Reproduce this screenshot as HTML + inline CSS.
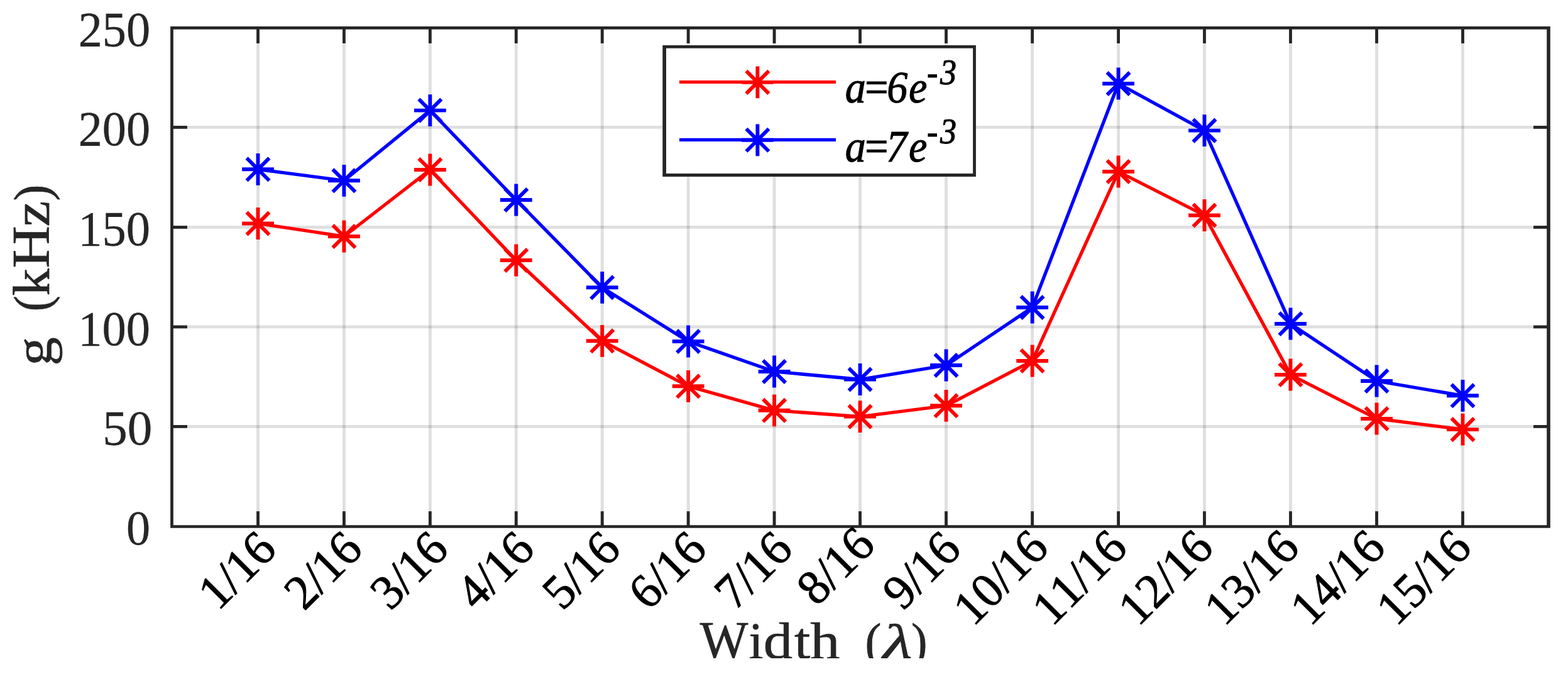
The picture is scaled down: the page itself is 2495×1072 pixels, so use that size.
<!DOCTYPE html>
<html lang="en"><head><meta charset="utf-8"><title>g (kHz) versus Width (λ)</title>
<style>
html,body{margin:0;padding:0;background:#fff;}
body{width:2495px;height:1072px;overflow:hidden;}
svg{display:block;}
text{font-family:"Liberation Serif",serif;font-kerning:none;}
.tk{fill:#262626;stroke:#262626;stroke-width:0.4px;font-size:77.5px;}
.xt{fill:#000;stroke:#000;stroke-width:1px;font-size:77.5px;}
.lb{fill:#262626;stroke:#262626;stroke-width:0.7px;font-size:83.7px;}
.lg{fill:#000;stroke:#000;stroke-width:1.1px;font-size:71px;font-style:italic;}
.sp{font-size:56px;}
</style></head><body>
<svg width="2495" height="1072" viewBox="0 0 2495 1072">
<rect x="0" y="0" width="2495" height="1072" fill="#fff"/>
<g stroke="#262626" stroke-opacity="0.15" stroke-width="4.80" fill="none">
<line x1="410.50" y1="46.85" x2="410.50" y2="835.30"/>
<line x1="547.43" y1="46.85" x2="547.43" y2="835.30"/>
<line x1="684.36" y1="46.85" x2="684.36" y2="835.30"/>
<line x1="821.29" y1="46.85" x2="821.29" y2="835.30"/>
<line x1="958.22" y1="46.85" x2="958.22" y2="835.30"/>
<line x1="1095.15" y1="46.85" x2="1095.15" y2="835.30"/>
<line x1="1232.08" y1="46.85" x2="1232.08" y2="835.30"/>
<line x1="1368.55" y1="46.85" x2="1368.55" y2="835.30"/>
<line x1="1505.50" y1="46.85" x2="1505.50" y2="835.30"/>
<line x1="1642.60" y1="46.85" x2="1642.60" y2="835.30"/>
<line x1="1779.60" y1="46.85" x2="1779.60" y2="835.30"/>
<line x1="1916.50" y1="46.85" x2="1916.50" y2="835.30"/>
<line x1="2053.50" y1="46.85" x2="2053.50" y2="835.30"/>
<line x1="2190.59" y1="46.85" x2="2190.59" y2="835.30"/>
<line x1="2327.52" y1="46.85" x2="2327.52" y2="835.30"/>
<line x1="275.85" y1="202.45" x2="2461.20" y2="202.45"/>
<line x1="275.85" y1="361.43" x2="2461.20" y2="361.43"/>
<line x1="275.85" y1="519.90" x2="2461.20" y2="519.90"/>
<line x1="275.85" y1="678.43" x2="2461.20" y2="678.43"/>
</g>
<g fill="#262626">
<path fill-rule="evenodd" d="M271.10 42.10H2466.80V839.80H271.10ZM275.85 46.85H2461.20V835.30H275.85Z"/>
<rect x="408.10" y="813.20" width="4.80" height="23.10"/>
<rect x="408.10" y="45.85" width="4.80" height="23.10"/>
<rect x="545.03" y="813.20" width="4.80" height="23.10"/>
<rect x="545.03" y="45.85" width="4.80" height="23.10"/>
<rect x="681.96" y="813.20" width="4.80" height="23.10"/>
<rect x="681.96" y="45.85" width="4.80" height="23.10"/>
<rect x="818.89" y="813.20" width="4.80" height="23.10"/>
<rect x="818.89" y="45.85" width="4.80" height="23.10"/>
<rect x="955.82" y="813.20" width="4.80" height="23.10"/>
<rect x="955.82" y="45.85" width="4.80" height="23.10"/>
<rect x="1092.75" y="813.20" width="4.80" height="23.10"/>
<rect x="1092.75" y="45.85" width="4.80" height="23.10"/>
<rect x="1229.68" y="813.20" width="4.80" height="23.10"/>
<rect x="1229.68" y="45.85" width="4.80" height="23.10"/>
<rect x="1366.15" y="813.20" width="4.80" height="23.10"/>
<rect x="1366.15" y="45.85" width="4.80" height="23.10"/>
<rect x="1503.10" y="813.20" width="4.80" height="23.10"/>
<rect x="1503.10" y="45.85" width="4.80" height="23.10"/>
<rect x="1640.20" y="813.20" width="4.80" height="23.10"/>
<rect x="1640.20" y="45.85" width="4.80" height="23.10"/>
<rect x="1777.20" y="813.20" width="4.80" height="23.10"/>
<rect x="1777.20" y="45.85" width="4.80" height="23.10"/>
<rect x="1914.10" y="813.20" width="4.80" height="23.10"/>
<rect x="1914.10" y="45.85" width="4.80" height="23.10"/>
<rect x="2051.10" y="813.20" width="4.80" height="23.10"/>
<rect x="2051.10" y="45.85" width="4.80" height="23.10"/>
<rect x="2188.19" y="813.20" width="4.80" height="23.10"/>
<rect x="2188.19" y="45.85" width="4.80" height="23.10"/>
<rect x="2325.12" y="813.20" width="4.80" height="23.10"/>
<rect x="2325.12" y="45.85" width="4.80" height="23.10"/>
<rect x="274.85" y="200.05" width="23.10" height="4.80"/>
<rect x="2440.00" y="200.05" width="22.20" height="4.80"/>
<rect x="274.85" y="359.03" width="23.10" height="4.80"/>
<rect x="2440.00" y="359.03" width="22.20" height="4.80"/>
<rect x="274.85" y="517.50" width="23.10" height="4.80"/>
<rect x="2440.00" y="517.50" width="22.20" height="4.80"/>
<rect x="274.85" y="676.03" width="23.10" height="4.80"/>
<rect x="2440.00" y="676.03" width="22.20" height="4.80"/>
</g>
<polyline points="410.50,355.50 547.43,376.00 684.36,270.00 821.29,414.00 958.22,542.30 1095.15,614.30 1232.08,652.80 1368.55,662.60 1505.50,645.30 1642.60,574.00 1779.60,273.00 1916.50,342.50 2053.50,596.00 2190.59,666.00 2327.52,683.10" fill="none" stroke="#ff0000" stroke-width="5.3" stroke-linejoin="miter"/>
<path d="M385.10 355.50H435.90M410.50 330.10V380.90M392.54 337.54L428.46 373.46M392.54 373.46L428.46 337.54M522.03 376.00H572.83M547.43 350.60V401.40M529.47 358.04L565.39 393.96M529.47 393.96L565.39 358.04M658.96 270.00H709.76M684.36 244.60V295.40M666.40 252.04L702.32 287.96M666.40 287.96L702.32 252.04M795.89 414.00H846.69M821.29 388.60V439.40M803.33 396.04L839.25 431.96M803.33 431.96L839.25 396.04M932.82 542.30H983.62M958.22 516.90V567.70M940.26 524.34L976.18 560.26M940.26 560.26L976.18 524.34M1069.75 614.30H1120.55M1095.15 588.90V639.70M1077.19 596.34L1113.11 632.26M1077.19 632.26L1113.11 596.34M1206.68 652.80H1257.48M1232.08 627.40V678.20M1214.12 634.84L1250.04 670.76M1214.12 670.76L1250.04 634.84M1343.15 662.60H1393.95M1368.55 637.20V688.00M1350.59 644.64L1386.51 680.56M1350.59 680.56L1386.51 644.64M1480.10 645.30H1530.90M1505.50 619.90V670.70M1487.54 627.34L1523.46 663.26M1487.54 663.26L1523.46 627.34M1617.20 574.00H1668.00M1642.60 548.60V599.40M1624.64 556.04L1660.56 591.96M1624.64 591.96L1660.56 556.04M1754.20 273.00H1805.00M1779.60 247.60V298.40M1761.64 255.04L1797.56 290.96M1761.64 290.96L1797.56 255.04M1891.10 342.50H1941.90M1916.50 317.10V367.90M1898.54 324.54L1934.46 360.46M1898.54 360.46L1934.46 324.54M2028.10 596.00H2078.90M2053.50 570.60V621.40M2035.54 578.04L2071.46 613.96M2035.54 613.96L2071.46 578.04M2165.19 666.00H2215.99M2190.59 640.60V691.40M2172.63 648.04L2208.55 683.96M2172.63 683.96L2208.55 648.04M2302.12 683.10H2352.92M2327.52 657.70V708.50M2309.56 665.14L2345.48 701.06M2309.56 701.06L2345.48 665.14" fill="none" stroke="#ff0000" stroke-width="5.9"/>
<polyline points="410.50,269.30 547.43,287.30 684.36,175.60 821.29,318.00 958.22,457.30 1095.15,543.00 1232.08,591.00 1368.55,603.50 1505.50,581.00 1642.60,489.00 1779.60,133.00 1916.50,207.60 2053.50,515.00 2190.59,606.00 2327.52,629.30" fill="none" stroke="#0000ff" stroke-width="5.3" stroke-linejoin="miter"/>
<path d="M385.10 269.30H435.90M410.50 243.90V294.70M392.54 251.34L428.46 287.26M392.54 287.26L428.46 251.34M522.03 287.30H572.83M547.43 261.90V312.70M529.47 269.34L565.39 305.26M529.47 305.26L565.39 269.34M658.96 175.60H709.76M684.36 150.20V201.00M666.40 157.64L702.32 193.56M666.40 193.56L702.32 157.64M795.89 318.00H846.69M821.29 292.60V343.40M803.33 300.04L839.25 335.96M803.33 335.96L839.25 300.04M932.82 457.30H983.62M958.22 431.90V482.70M940.26 439.34L976.18 475.26M940.26 475.26L976.18 439.34M1069.75 543.00H1120.55M1095.15 517.60V568.40M1077.19 525.04L1113.11 560.96M1077.19 560.96L1113.11 525.04M1206.68 591.00H1257.48M1232.08 565.60V616.40M1214.12 573.04L1250.04 608.96M1214.12 608.96L1250.04 573.04M1343.15 603.50H1393.95M1368.55 578.10V628.90M1350.59 585.54L1386.51 621.46M1350.59 621.46L1386.51 585.54M1480.10 581.00H1530.90M1505.50 555.60V606.40M1487.54 563.04L1523.46 598.96M1487.54 598.96L1523.46 563.04M1617.20 489.00H1668.00M1642.60 463.60V514.40M1624.64 471.04L1660.56 506.96M1624.64 506.96L1660.56 471.04M1754.20 133.00H1805.00M1779.60 107.60V158.40M1761.64 115.04L1797.56 150.96M1761.64 150.96L1797.56 115.04M1891.10 207.60H1941.90M1916.50 182.20V233.00M1898.54 189.64L1934.46 225.56M1898.54 225.56L1934.46 189.64M2028.10 515.00H2078.90M2053.50 489.60V540.40M2035.54 497.04L2071.46 532.96M2035.54 532.96L2071.46 497.04M2165.19 606.00H2215.99M2190.59 580.60V631.40M2172.63 588.04L2208.55 623.96M2172.63 623.96L2208.55 588.04M2302.12 629.30H2352.92M2327.52 603.90V654.70M2309.56 611.34L2345.48 647.26M2309.56 647.26L2345.48 611.34" fill="none" stroke="#0000ff" stroke-width="5.9"/>
<rect x="1054.30" y="72.00" width="498.60" height="209.00" fill="#fff"/>
<path fill="#262626" fill-rule="evenodd" d="M1054.30 72.00H1552.90V281.00H1054.30ZM1060.00 76.80H1548.10V276.10H1060.00Z"/>
<line x1="1081" y1="130.50" x2="1330" y2="130.50" stroke="#ff0000" stroke-width="5.2"/>
<path d="M1180.00 130.90H1230.80M1205.40 105.50V156.30M1187.44 112.94L1223.36 148.86M1187.44 148.86L1223.36 112.94" fill="none" stroke="#ff0000" stroke-width="5.9"/>
<line x1="1081" y1="222.40" x2="1330" y2="222.40" stroke="#0000ff" stroke-width="5.2"/>
<path d="M1180.00 222.80H1230.80M1205.40 197.40V248.20M1187.44 204.84L1223.36 240.76M1187.44 240.76L1223.36 204.84" fill="none" stroke="#0000ff" stroke-width="5.9"/>
<text class="lg" transform="translate(0 163.30) scale(0.930 1)" x="1446.06 1475.36 1517.55 1554.81" y="0">a=6e<tspan class="sp" x="1585.99 1608.68" dy="-29.4">-3</tspan></text>
<text class="lg" transform="translate(0 257.30) scale(0.930 1)" x="1446.06 1475.36 1516.27 1554.81" y="0">a=7e<tspan class="sp" x="1585.99 1608.68" dy="-29.4">-3</tspan></text>
<text class="tk" transform="translate(124.65 72.90) scale(0.9846 1)">250</text>
<text class="tk" transform="translate(124.65 231.00) scale(0.9846 1)">200</text>
<text class="tk" transform="translate(124.27 389.90) scale(0.9879 1)">150</text>
<text class="tk" transform="translate(124.27 549.00) scale(0.9879 1)">100</text>
<text class="tk" transform="translate(163.21 707.00) scale(1.0193 1)">50</text>
<text class="tk" transform="translate(201.00 865.90) scale(0.9834 1)">0</text>
<text class="xt" text-anchor="end" transform="translate(443.00 876.90) rotate(-45) scale(0.985 1)">1/16</text>
<text class="xt" text-anchor="end" transform="translate(579.93 876.90) rotate(-45) scale(0.985 1)">2/16</text>
<text class="xt" text-anchor="end" transform="translate(716.86 876.90) rotate(-45) scale(0.985 1)">3/16</text>
<text class="xt" text-anchor="end" transform="translate(853.79 876.90) rotate(-45) scale(0.985 1)">4/16</text>
<text class="xt" text-anchor="end" transform="translate(990.72 876.90) rotate(-45) scale(0.985 1)">5/16</text>
<text class="xt" text-anchor="end" transform="translate(1127.65 876.90) rotate(-45) scale(0.985 1)">6/16</text>
<text class="xt" text-anchor="end" transform="translate(1264.58 876.90) rotate(-45) scale(0.985 1)">7/16</text>
<text class="xt" text-anchor="end" transform="translate(1395.41 869.90) rotate(-45) scale(0.985 1)">8/16</text>
<text class="xt" text-anchor="end" transform="translate(1532.14 876.90) rotate(-45) scale(0.985 1)">9/16</text>
<text class="xt" text-anchor="end" transform="translate(1671.47 874.80) rotate(-45) scale(0.985 1)">10/16</text>
<text class="xt" text-anchor="end" transform="translate(1797.00 874.80) rotate(-45) scale(0.985 1)">11/16</text>
<text class="xt" text-anchor="end" transform="translate(1933.93 874.80) rotate(-45) scale(0.985 1)">12/16</text>
<text class="xt" text-anchor="end" transform="translate(2070.86 874.80) rotate(-45) scale(0.985 1)">13/16</text>
<text class="xt" text-anchor="end" transform="translate(2207.79 874.80) rotate(-45) scale(0.985 1)">14/16</text>
<text class="xt" text-anchor="end" transform="translate(2344.72 874.80) rotate(-45) scale(0.985 1)">15/16</text>
<text class="lb" transform="translate(78.1 600) rotate(-90)" y="0"><tspan x="18.18" font-size="82.00" textLength="45.66" lengthAdjust="spacingAndGlyphs" dy="2.5">g</tspan> <tspan x="104.81" font-size="81.00" textLength="24.89" lengthAdjust="spacingAndGlyphs" dy="-2.5">(</tspan><tspan x="129.54" font-size="82.00" textLength="43.46" lengthAdjust="spacingAndGlyphs">k</tspan><tspan x="173.41" font-size="83.70" textLength="67.32" lengthAdjust="spacingAndGlyphs">H</tspan><tspan x="239.62" font-size="82.00" textLength="40.94" lengthAdjust="spacingAndGlyphs">z</tspan><tspan x="280.60" font-size="81.00" textLength="25.80" lengthAdjust="spacingAndGlyphs">)</tspan></text>
<clipPath id="c"><rect x="0" y="0" width="2495" height="1046.9"/></clipPath>
<g clip-path="url(#c)"><text class="lb" y="1047"><tspan x="1113.72" font-size="83.70" textLength="76.64" lengthAdjust="spacingAndGlyphs">W</tspan><tspan x="1191.46" font-size="82.00" textLength="23.02" lengthAdjust="spacingAndGlyphs">i</tspan><tspan x="1214.85" font-size="82.00" textLength="46.38" lengthAdjust="spacingAndGlyphs">d</tspan><tspan x="1264.11" font-size="82.00" textLength="25.32" lengthAdjust="spacingAndGlyphs">t</tspan><tspan x="1289.28" font-size="82.00" textLength="47.16" lengthAdjust="spacingAndGlyphs">h</tspan> <tspan x="1376.58" font-size="80.50" textLength="25.93" lengthAdjust="spacingAndGlyphs">(</tspan><tspan x="1404.65" font-size="77.50" textLength="47.05" lengthAdjust="spacingAndGlyphs" font-style="italic">λ</tspan><tspan x="1449.93" font-size="80.50" textLength="25.54" lengthAdjust="spacingAndGlyphs">)</tspan></text></g>
</svg>
</body></html>
